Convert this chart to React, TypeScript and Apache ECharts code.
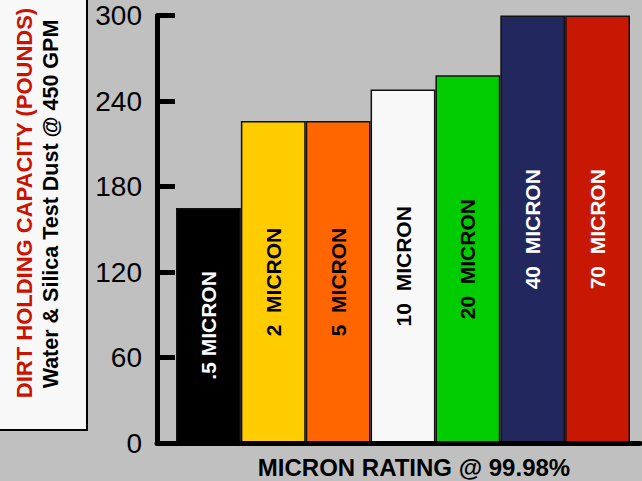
import React, { useEffect, useRef } from "react";
import * as echarts from "echarts";

const categories = [".5", "2", "5", "10", "20", "40", "70"];
const capacity = [165, 226, 226, 248, 258, 300, 300];
const barLabels = [".5 MICRON", "2  MICRON", "5  MICRON", "10  MICRON", "20  MICRON", "40  MICRON", "70  MICRON"];
const barColors = ["#000000", "#FFCC00", "#FF6600", "#F8F8F8", "#00CC00", "#22285E", "#C81803"];
const labelColors = ["#FFFFFF", "#000000", "#000000", "#000000", "#000000", "#FFFFFF", "#FFFFFF"];
const yTitle1 = "DIRT HOLDING CAPACITY (POUNDS)";
const yTitle2 = "Water & Silica Test Dust @ 450 GPM";
const xTitle = "MICRON RATING @ 99.98%";

const FONT = "'Liberation Sans', Arial, Helvetica, sans-serif";

export default function App() {
  const ref = useRef<HTMLDivElement>(null);
  useEffect(() => {
    if (!ref.current) return;
    const chart = echarts.init(ref.current, null, { renderer: "svg" });
    const top = 15.5;
    const bottom = 38;
    chart.setOption({
      animation: false,
      backgroundColor: "#C0C0C0",
      textStyle: { fontFamily: FONT },
      grid: [
        { left: 157, right: 2, top, bottom },
        { left: 176, right: 12, top, bottom },
      ],
      xAxis: [
        {
          gridIndex: 0,
          type: "category",
          data: categories,
          z: 10,
          axisLine: { show: true, lineStyle: { color: "#000", width: 5 } },
          axisTick: { show: false },
          axisLabel: { show: false },
          splitLine: { show: false },
        },
        {
          gridIndex: 1,
          type: "category",
          data: categories,
          axisLine: { show: false },
          axisTick: { show: false },
          axisLabel: { show: false },
          splitLine: { show: false },
        },
      ],
      yAxis: [
        {
          gridIndex: 0,
          type: "value",
          min: 0,
          max: 300,
          interval: 60,
          z: 10,
          axisLine: { show: true, lineStyle: { color: "#000", width: 5 } },
          axisTick: { show: true, inside: true, length: 18, lineStyle: { color: "#000", width: 5 } },
          axisLabel: { color: "#000", fontSize: 28, fontFamily: FONT, margin: 15 },
          splitLine: { show: false },
        },
        {
          gridIndex: 1,
          type: "value",
          min: 0,
          max: 300,
          interval: 60,
          show: false,
          splitLine: { show: false },
        },
      ],
      series: [
        {
          type: "bar",
          xAxisIndex: 1,
          yAxisIndex: 1,
          barCategoryGap: "0%",
          data: capacity.map((v, i) => ({
            value: v,
            itemStyle: { color: barColors[i], borderColor: "#111", borderWidth: 1.5 },
            label: { color: labelColors[i] },
          })),
          label: {
            show: true,
            position: "inside",
            rotate: 90,
            fontSize: 21,
            fontWeight: "bold",
            fontFamily: FONT,
            formatter: (p: any) => barLabels[p.dataIndex],
          },
        },
      ],
      graphic: [
        {
          type: "rect",
          shape: { x: -2, y: -2, width: 89, height: 432 },
          style: { fill: "#F8F8F8", stroke: "#000", lineWidth: 2 },
          z: 1,
        },
        {
          type: "text",
          x: 24,
          y: 203,
          rotation: Math.PI / 2,
          z: 2,
          style: {
            text: yTitle1,
            fill: "#CC1100",
            font: `bold 22px ${FONT}`,
            textAlign: "center",
            textVerticalAlign: "middle",
          },
        },
        {
          type: "text",
          x: 51,
          y: 204,
          rotation: Math.PI / 2,
          z: 2,
          style: {
            text: yTitle2,
            fill: "#000",
            font: `bold 21.5px ${FONT}`,
            textAlign: "center",
            textVerticalAlign: "middle",
          },
        },
        {
          type: "text",
          x: 414,
          y: 467,
          z: 2,
          style: {
            text: xTitle,
            fill: "#000",
            font: `bold 24px ${FONT}`,
            textAlign: "center",
            textVerticalAlign: "middle",
          },
        },
      ],
    });
    return () => chart.dispose();
  }, []);
  return (
    <div
      ref={ref}
      style={{ position: "fixed", left: 0, top: 0, width: 642, height: 481 }}
    />
  );
}
